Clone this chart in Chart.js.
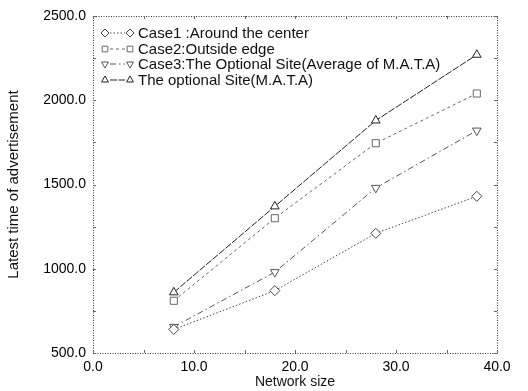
<!DOCTYPE html>
<html><head><meta charset="utf-8">
<script src="https://cdn.jsdelivr.net/npm/chart.js@4/dist/chart.umd.min.js"></script>
<style>html,body{margin:0;padding:0;background:#fff}#wrap{width:528px;height:391px}</style>
</head><body><div id="wrap"><canvas id="c" width="528" height="391"></canvas></div>
<script>
const networkSizes = [8, 18, 28, 38];
const case1Around = [640, 870, 1210, 1430];
const case2Outside = [810, 1300, 1745, 2040];
const case3Average = [655, 980, 1480, 1820];
const optionalMATA = [860, 1370, 1880, 2270];
const seriesLabels = ["Case1 :Around the center", "Case2:Outside edge", "Case3:The Optional Site(Average of M.A.T.A)", "The optional Site(M.A.T.A)"];
const xTickValues = [0, 10, 20, 30, 40];
const yTickValues = [500, 1000, 1500, 2000, 2500];

const FONT = '"Liberation Sans", Arial, sans-serif';
const styles = [
  {color:'#444', dash:[1.5,2], pointStyle:'rectRot', rotation:0},
  {color:'#666', dash:[3,3], pointStyle:'rect', rotation:0},
  {color:'#555', dash:[6,3,1.5,3], pointStyle:'triangle', rotation:180},
  {color:'#222', dash:[7,1.5], pointStyle:'triangle', rotation:0}
];
const allData = [case1Around, case2Outside, case3Average, optionalMATA];
const datasets = allData.map((vals,i)=>({
  label: seriesLabels[i],
  data: networkSizes.map((x,j)=>({x:x, y:vals[j]})),
  borderColor: styles[i].color,
  borderWidth: 1,
  borderDash: styles[i].dash,
  pointStyle: styles[i].pointStyle,
  rotation: styles[i].rotation,
  pointRadius: 5,
  pointBorderWidth: 1,
  pointBorderColor: styles[i].color,
  pointBackgroundColor: '#fff',
  tension: 0,
  fill: false
}));

const frame = {
  id:'frame',
  afterDraw(chart){
    const {ctx, chartArea:a, scales} = chart;
    ctx.save();
    ctx.strokeStyle='#333'; ctx.lineWidth=1; ctx.setLineDash([1,1.5]);
    ctx.strokeRect(a.left+0.5, a.top+0.5, a.right-a.left, a.bottom-a.top);
    ctx.setLineDash([]);
    ctx.strokeStyle='#666';
    for (let v=500; v<=2500; v+=250){
      const y=Math.round(scales.y.getPixelForValue(v))+0.5;
      ctx.beginPath(); ctx.moveTo(a.left,y); ctx.lineTo(a.left+3,y);
      ctx.moveTo(a.right,y); ctx.lineTo(a.right-3,y); ctx.stroke();
    }
    for (let v=0; v<=40; v+=5){
      const x=Math.round(scales.x.getPixelForValue(v))+0.5;
      ctx.beginPath(); ctx.moveTo(x,a.bottom); ctx.lineTo(x,a.bottom-3);
      ctx.moveTo(x,a.top); ctx.lineTo(x,a.top+3); ctx.stroke();
    }
    // legend
    const rows=[33,49,64,80];
    ctx.font='15px ' + FONT;
    ctx.textBaseline='middle';
    rows.forEach((ry,i)=>{
      const s=styles[i];
      ctx.strokeStyle=s.color; ctx.lineWidth=1; ctx.setLineDash(s.dash);
      ctx.beginPath(); ctx.moveTo(110,ry); ctx.lineTo(125,ry); ctx.stroke();
      ctx.setLineDash([]);
      [105,130].forEach(px=>{
        ctx.fillStyle='#fff'; ctx.strokeStyle=s.color;
        Chart.helpers.drawPoint(ctx,{pointStyle:s.pointStyle, rotation:s.rotation, radius:4, borderWidth:1}, px, ry);
      });
      ctx.fillStyle='#111';
      ctx.fillText(seriesLabels[i], 138, ry+1);
    });
    ctx.restore();
  }
};

new Chart(document.getElementById('c'), {
  type:'line',
  data:{datasets},
  options:{
    responsive:false, animation:false, devicePixelRatio:1,
    layout:{padding:{left:0, top:16, right:31, bottom:0}},
    plugins:{legend:{display:false}, tooltip:{enabled:false}},
    scales:{
      x:{type:'linear', min:0, max:40,
        afterBuildTicks:(s)=>{s.ticks=xTickValues.map(v=>({value:v}));},
        afterFit:(s)=>{s.height=38;},
        grid:{display:false, drawTicks:false}, border:{display:false},
        ticks:{padding:6, color:'#000', font:{family:FONT, size:14}, callback:(v)=>Number(v).toFixed(1), maxRotation:0, autoSkip:false},
        title:{display:true, text:'Network size', color:'#111', font:{family:FONT, size:14}, padding:{top:0,bottom:0}}
      },
      y:{type:'linear', min:500, max:2500,
        afterBuildTicks:(s)=>{s.ticks=yTickValues.map(v=>({value:v}));},
        afterFit:(s)=>{s.width=93;},
        grid:{display:false, drawTicks:false}, border:{display:false},
        ticks:{padding:7, color:'#000', font:{family:FONT, size:14}, callback:(v)=>Number(v).toFixed(1)},
        title:{display:true, text:'Latest time of advertisement', color:'#111', font:{family:FONT, size:15}, padding:{top:5,bottom:0}}
      }
    }
  },
  plugins:[frame]
});
</script></body></html>
